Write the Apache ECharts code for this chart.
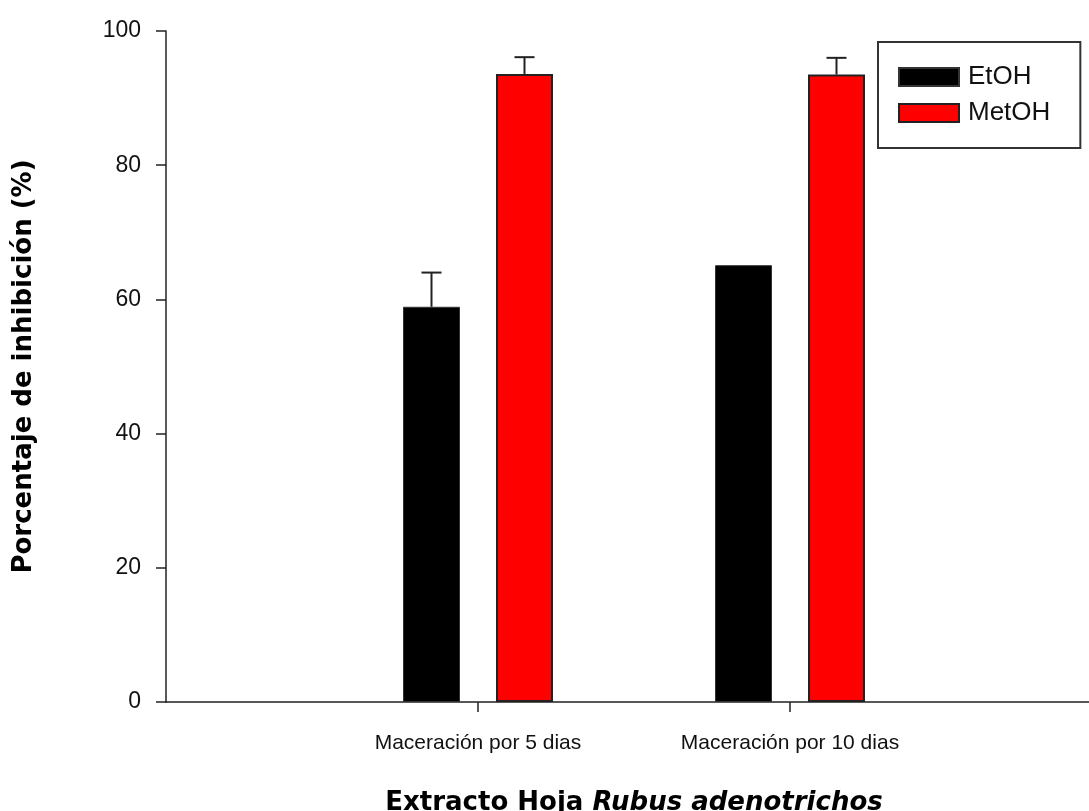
<!DOCTYPE html>
<html>
<head>
<meta charset="utf-8">
<script src="https://cdn.jsdelivr.net/npm/echarts@6/dist/echarts.min.js"></script>
<style>
  html, body { margin: 0; padding: 0; background: #fff; }
  #chart { width: 1089px; height: 811px; }
</style>
</head>
<body>
<div id="chart"></div>
<script>
// Categories (empty slots pad the axis on both ends)
const categories = ['', 'Maceración por 5 dias', 'Maceración por 10 dias', ''];
const seriesNames = ['EtOH', 'MetOH'];
// Mean inhibition (%) per category
const etohValues = [null, 58.9, 65.1, null];
const metohValues = [null, 93.6, 93.5, null];
// Upper error (standard deviation)
const etohErrors = [0, 5.1, 0, 0];
const metohErrors = [0, 2.5, 2.5, 0];
const yTicks = [0, 20, 40, 60, 80, 100];

const BAR_WIDTH = 57;
const BAR_GAP = 36;
const OFFSET = (BAR_WIDTH + BAR_GAP) / 2;

const chart = echarts.init(document.getElementById('chart'));

function errorData(values, errors) {
  const out = [];
  values.forEach((v, i) => {
    if (v != null && errors[i] > 0) out.push([i, v, errors[i]]);
  });
  return out;
}

function errorRenderer(offset) {
  return function (params, api) {
    const idx = api.value(0);
    const val = api.value(1);
    const err = api.value(2);
    const base = api.coord([idx, val]);
    const top = api.coord([idx, val + err]);
    const x = base[0] + offset;
    const style = { stroke: '#222', lineWidth: 2 };
    return {
      type: 'group',
      children: [
        { type: 'line', shape: { x1: x, y1: base[1], x2: x, y2: top[1] }, style: style },
        { type: 'line', shape: { x1: x - 10, y1: top[1], x2: x + 10, y2: top[1] }, style: style }
      ]
    };
  };
}

const titleFont = '"DejaVu Sans", Arial, sans-serif';
const bodyFont = 'Arial, "Liberation Sans", sans-serif';

chart.setOption({
  animation: false,
  backgroundColor: '#fff',
  grid: { left: 166, right: -13, top: 31, bottom: 109, containLabel: false, outerBoundsMode: 'none' },
  legend: {
    data: seriesNames,
    orient: 'vertical',
    left: 878,
    top: 42,
    padding: [22, 30, 22, 20],
    icon: 'rect',
    itemWidth: 60,
    itemHeight: 18,
    itemGap: 10,
    borderColor: '#333',
    borderWidth: 2,
    textStyle: { fontFamily: bodyFont, fontSize: 26, color: '#111', padding: [0, 0, 0, 4] }
  },
  xAxis: {
    type: 'category',
    data: categories,
    boundaryGap: false,
    axisLine: { lineStyle: { color: '#222', width: 1.5 } },
    axisTick: { length: 10, interval: (i, v) => v !== '', lineStyle: { color: '#222', width: 1.5 } },
    axisLabel: {
      interval: 0,
      margin: 31,
      fontFamily: bodyFont,
      fontSize: 21,
      color: '#111'
    },
    name: '{a|Extracto Hoja }{b|Rubus adenotrichos}',
    nameLocation: 'middle',
    nameGap: 88,
    nameTextStyle: {
      rich: {
        a: { fontFamily: titleFont, fontWeight: 'bold', fontSize: 26, color: '#000' },
        b: { fontFamily: titleFont, fontWeight: 'bold', fontStyle: 'italic', fontSize: 26, color: '#000' }
      }
    }
  },
  yAxis: {
    type: 'value',
    min: yTicks[0],
    max: yTicks[yTicks.length - 1],
    interval: yTicks[1] - yTicks[0],
    splitLine: { show: false },
    axisLine: { show: true, lineStyle: { color: '#222', width: 1.5 } },
    axisTick: { show: true, length: 10, lineStyle: { color: '#222', width: 1.5 } },
    axisLabel: {
      margin: 25,
      fontFamily: bodyFont,
      fontSize: 23,
      color: '#111'
    },
    name: 'Porcentaje de inhibición (%)',
    nameLocation: 'middle',
    nameRotate: 90,
    nameGap: 129,
    nameTextStyle: { fontFamily: titleFont, fontWeight: 'bold', fontSize: 26, color: '#000' }
  },
  series: [
    {
      name: seriesNames[0],
      type: 'bar',
      data: etohValues,
      barWidth: BAR_WIDTH,
      barGap: (BAR_GAP / BAR_WIDTH * 100) + '%',
      itemStyle: { color: '#000', borderColor: '#333', borderWidth: 1 },
      z: 2
    },
    {
      name: seriesNames[1],
      type: 'bar',
      data: metohValues,
      barWidth: BAR_WIDTH,
      itemStyle: { color: '#ff0000', borderColor: '#222', borderWidth: 2 },
      z: 2
    },
    {
      type: 'custom',
      data: errorData(etohValues, etohErrors),
      renderItem: errorRenderer(-OFFSET),
      z: 3,
      silent: true
    },
    {
      type: 'custom',
      data: errorData(metohValues, metohErrors),
      renderItem: errorRenderer(OFFSET),
      z: 3,
      silent: true
    }
  ]
});
</script>
</body>
</html>
